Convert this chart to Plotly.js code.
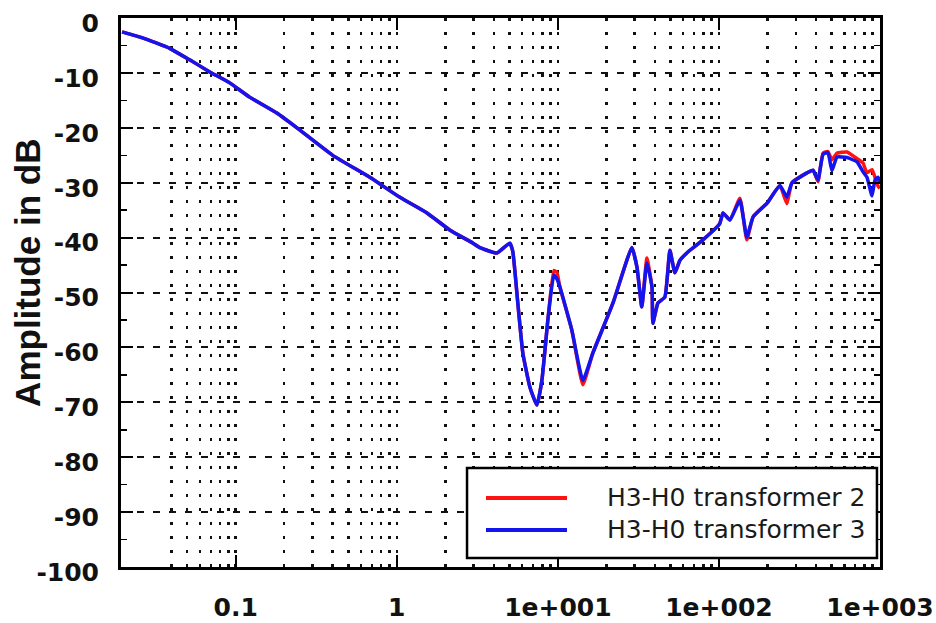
<!DOCTYPE html>
<html>
<head>
<meta charset="utf-8">
<script src="https://cdn.plot.ly/plotly-3.0.1.min.js"></script>
<style>html,body{margin:0;padding:0;background:#fff;}#chart{width:936px;height:623px;}</style>
</head>
<body>
<div id="chart"></div>
<script>
// Frequency values (log axis) shared by both series
const freq = [0.0197, 0.0264, 0.0389, 0.0518, 0.069, 0.0918, 0.122, 0.18, 0.24, 0.40, 0.68, 1.04, 1.54, 2.13, 2.97, 3.28, 4.18, 5.03, 5.25, 5.64, 6.06, 6.70, 7.41, 7.96, 8.67, 9.44, 9.86, 10.3, 12.2, 14.3, 16.5, 22.0, 28.8, 31.0, 33.2, 35.7, 38.4, 38.9, 41.8, 46.2, 49.6, 53.3, 57.3, 66.0, 79.6, 101, 106, 117, 135, 149, 163, 199, 239, 264, 284, 352, 384, 412, 443, 475, 503, 541, 624, 720, 784, 830, 892, 931, 972, 1000];

// H3-H0 transformer 2 (red)
const ampT2 = [-2.5, -3.6, -5.5, -7.6, -9.8, -11.8, -14.4, -17.3, -20, -25, -29, -32.6, -35.5, -38.6, -41.0, -41.8, -42.8, -41.0, -42.5, -51.9, -61, -67.2, -70.5, -66, -55, -46.0, -46.3, -49, -56.8, -66.8, -61, -51.9, -41.8, -45.4, -52.6, -43.7, -49, -55.6, -51.9, -50.8, -42.3, -46.4, -44.1, -42.3, -40.4, -37.5, -35.5, -36.8, -32.8, -40.4, -36.2, -33.7, -30.5, -33.8, -30, -28.2, -27.7, -29.8, -24.6, -24.3, -25.8, -24.6, -24.4, -25.6, -26.4, -28.2, -27.6, -29.0, -30.6, -31];

// H3-H0 transformer 3 (blue)
const ampT3 = [-2.5, -3.6, -5.5, -7.6, -9.8, -11.8, -14.4, -17.3, -20, -25, -29, -32.6, -35.5, -38.6, -41.0, -41.8, -42.8, -41.0, -42.5, -51.9, -61, -67.2, -70.5, -66, -55, -46.8, -47.5, -49, -56.8, -66, -61, -51.9, -41.8, -45.4, -52.6, -44.6, -49, -55.6, -51.9, -50.8, -42.3, -46.4, -44.1, -42.3, -40.4, -37.5, -35.5, -36.8, -33.2, -39.9, -36.2, -33.7, -30.5, -32.6, -30, -28.2, -27.7, -29.5, -24.8, -24.5, -27.8, -25.3, -25.4, -26.2, -28, -29, -32.4, -29.5, -29, -30];

const seriesNames = ["H3-H0 transformer 2", "H3-H0 transformer 3"];
const seriesColors = ["#ff1212", "#1414ee"];

// Axis ticks
const xTickVals = [0.1, 1, 10, 100, 1000];
const xTickText = ["0.1", "1", "1e+001", "1e+002", "1e+003"];
const xMinorVals = [0.04, 0.05, 0.06, 0.07, 0.08, 0.09,
  0.2, 0.3, 0.4, 0.5, 0.6, 0.7, 0.8, 0.9,
  2, 3, 4, 5, 6, 7, 8, 9,
  20, 30, 40, 50, 60, 70, 80, 90,
  200, 300, 400, 500, 600, 700, 800, 900];
const yTickVals = [0, -10, -20, -30, -40, -50, -60, -70, -80, -90, -100];
const yTickText = ["0", "-10", "-20", "-30", "-40", "-50", "-60", "-70", "-80", "-90", "-100"];
const yTitle = "Amplitude in dB";

const fontFam = "DejaVu Sans, Arial, sans-serif";
const titleFam = "Liberation Sans, Arial, sans-serif";

const traces = seriesNames.map((nm, i) => ({
  x: freq, y: i === 0 ? ampT2 : ampT3, name: nm, type: "scatter", mode: "lines",
  line: {color: seriesColors[i], width: 3.5, shape: "spline", smoothing: 0.4},
  showlegend: false
}));

// Hand-built legend (box, long line samples, labels) in paper coordinates
const legendShapes = [
  {type: "rect", xref: "paper", yref: "paper", x0: 0.4559, x1: 0.9960, y0: 0.0164, y1: 0.1803,
   fillcolor: "#ffffff", line: {color: "#000", width: 2.5}, layer: "above"},
  {type: "line", xref: "paper", yref: "paper", x0: 0.4809, x1: 0.5876, y0: 0.1257, y1: 0.1257,
   line: {color: seriesColors[0], width: 4}, layer: "above"},
  {type: "line", xref: "paper", yref: "paper", x0: 0.4809, x1: 0.5876, y0: 0.0674, y1: 0.0674,
   line: {color: seriesColors[1], width: 4}, layer: "above"}
];
const legendTexts = seriesNames.map((nm, i) => ({
  text: nm, xref: "paper", yref: "paper", x: 0.6377, y: i === 0 ? 0.1257 : 0.0674,
  xanchor: "left", yanchor: "middle", showarrow: false,
  font: {family: fontFam, size: 25, color: "#1a1a1a"}
}));

const layout = {
  width: 936, height: 623,
  margin: {l: 121, r: 56, t: 18, b: 56},
  paper_bgcolor: "#ffffff", plot_bgcolor: "#ffffff",
  showlegend: false,
  font: {family: fontFam, color: "#111111"},
  xaxis: {
    type: "log",
    range: [Math.log10(0.0194), 3],
    tickmode: "array", tickvals: xTickVals, ticktext: xTickText,
    ticks: "inside", ticklen: 12, tickwidth: 2, tickcolor: "#000",
    showline: true, linewidth: 3, linecolor: "#000", mirror: "ticks",
    showgrid: true, gridcolor: "#111", gridwidth: 2.5, griddash: "3px,11px",
    zeroline: false,
    tickfont: {family: fontFam, size: 25, color: "#111", weight: "bold"},
    ticklabelstandoff: 16,
    minor: {tickmode: "array", tickvals: xMinorVals, showgrid: true,
            gridcolor: "#111", gridwidth: 2.5, griddash: "3px,11px", ticks: ""}
  },
  yaxis: {
    range: [-100, 0.02],
    tickmode: "array", tickvals: yTickVals, ticktext: yTickText,
    ticks: "inside", ticklen: 12, tickwidth: 2, tickcolor: "#000",
    showline: true, linewidth: 3, linecolor: "#000", mirror: "ticks",
    showgrid: true, gridcolor: "#111", gridwidth: 2, griddash: "7px,9px",
    zeroline: false,
    tickfont: {family: fontFam, size: 25, color: "#111", weight: "bold"},
    ticklabelstandoff: 14,
    ticklabelshift: 5,
    ticklabeloverflow: "allow",
    minor: {dtick: 5, ticks: "inside", ticklen: 6, tickwidth: 1.5, tickcolor: "#000", showgrid: false}
  },
  shapes: legendShapes,
  annotations: legendTexts.concat([{
    text: yTitle, xref: "paper", yref: "paper",
    x: -0.124, y: 0.5355, xanchor: "center", yanchor: "middle",
    textangle: -90, showarrow: false,
    font: {family: titleFam, size: 35, color: "#111", weight: "bold"}
  }])
};

Plotly.newPlot("chart", traces, layout, {displayModeBar: false, staticPlot: true});
</script>
</body>
</html>
